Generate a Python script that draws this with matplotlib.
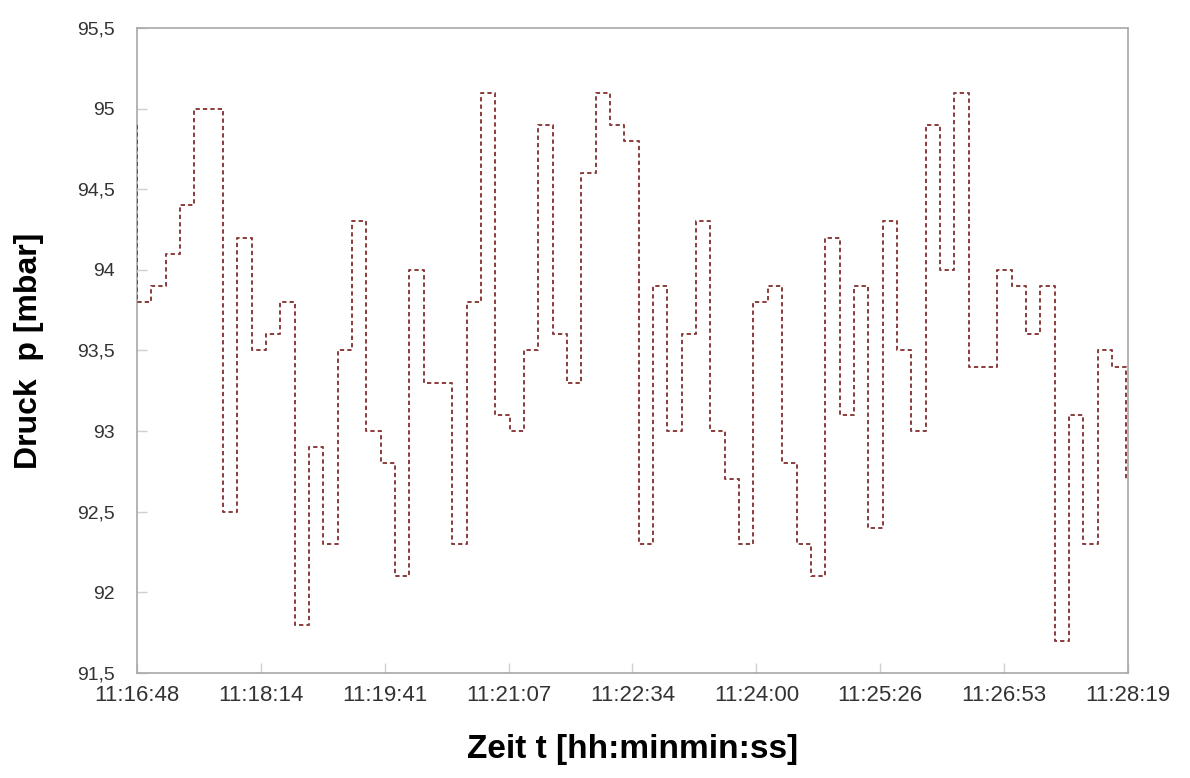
import matplotlib.pyplot as plt
import numpy as np

# Druckmessung, alle 10 s ein Wert (Startwert bei t=0, Endwert bei t=690 s)
start_wert = 94.9
druck = [93.8, 93.9, 94.1, 94.4, 95.0, 95.0, 92.5, 94.2, 93.5, 93.6,
         93.8, 91.8, 92.9, 92.3, 93.5, 94.3, 93.0, 92.8, 92.1, 94.0,
         93.3, 93.3, 92.3, 93.8, 95.1, 93.1, 93.0, 93.5, 94.9, 93.6,
         93.3, 94.6, 95.1, 94.9, 94.8, 92.3, 93.9, 93.0, 93.6, 94.3,
         93.0, 92.7, 92.3, 93.8, 93.9, 92.8, 92.3, 92.1, 94.2, 93.1,
         93.9, 92.4, 94.3, 93.5, 93.0, 94.9, 94.0, 95.1, 93.4, 93.4,
         94.0, 93.9, 93.6, 93.9, 91.7, 93.1, 92.3, 93.5, 93.4]
end_wert = 92.7
intervall = 10  # s

x_ticks = [0, 86.4, 172.8, 259.2, 345.6, 432.0, 518.4, 604.8, 691.2]
x_labels = ['11:16:48', '11:18:14', '11:19:41', '11:21:07', '11:22:34',
            '11:24:00', '11:25:26', '11:26:53', '11:28:19']
y_ticks = [91.5, 92, 92.5, 93, 93.5, 94, 94.5, 95, 95.5]
y_labels = ['91,5', '92', '92,5', '93', '93,5', '94', '94,5', '95', '95,5']

werte = [start_wert] + druck + [end_wert]
zeit = np.arange(len(werte)) * intervall

plt.rcParams['font.family'] = ['Liberation Sans', 'DejaVu Sans']

fig = plt.figure(figsize=(11.9, 7.78), dpi=100)
ax = fig.add_axes([0.1151, 0.135, 0.8328, 0.829])

ax.step(zeit, werte, where='pre', color='#8a3c3c', linewidth=1.4,
        linestyle=(0, (2.2, 1.6)), zorder=3)

ax.set_xlim(0, 691.2)
ax.set_ylim(91.5, 95.5)
ax.set_xticks(x_ticks)
ax.set_xticklabels(x_labels)
ax.set_yticks(y_ticks)
ax.set_yticklabels(y_labels)

ax.tick_params(axis='both', direction='in', length=7, width=1, color='#d0d0d0',
               labelsize=14, labelcolor='#333333')
ax.tick_params(axis='x', pad=9, labelsize=16)
ax.tick_params(axis='y', pad=16)

for s in ax.spines.values():
    s.set_color('#a8a8a8')
    s.set_linewidth(1.2)

label_font = ['Liberation Sans Narrow', 'Liberation Sans', 'DejaVu Sans']
ax.set_ylabel('Druck  p [mbar]', fontsize=23, fontweight='bold',
              family=label_font, labelpad=24)
ax.set_xlabel('Zeit t [hh:minmin:ss]', fontsize=24, fontweight='bold',
              family=label_font, labelpad=20)

fig.savefig('out.png', dpi=100)
